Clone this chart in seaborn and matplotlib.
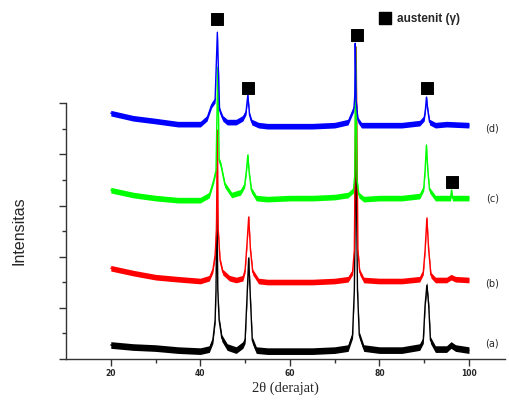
import numpy as np
import pandas as pd
import matplotlib
matplotlib.use("Agg")
import matplotlib.pyplot as plt
import seaborn as sns

# ---- data (2theta in degrees, intensity in arbitrary units) ----
x_a = [20, 25, 30, 35, 40, 42, 42.8, 43.3, 43.5, 43.7, 43.9, 44.2, 44.8, 46, 48, 49.5,
       50.0, 50.4, 50.8, 51.2, 51.6, 52.5, 55, 60, 65, 70, 73,
       74.0, 74.4, 74.75, 75.1, 75.5, 76.5, 80, 85, 89,
       89.8, 90.2, 90.6, 91.0, 91.4, 92.5, 95, 96, 97, 100]
y_a = [55, 47, 43, 35, 31, 39, 74, 152, 270, 621, 270, 152, 82, 47, 35, 55,
       74, 230, 395, 230, 74, 35, 31, 31, 31, 35, 43,
       94, 270, 844, 270, 94, 43, 35, 35, 47,
       74, 211, 289, 211, 74, 39, 39, 55, 43, 35]

x_b = [20, 25, 30, 35, 40, 42, 42.8, 43.3, 43.6, 43.8, 44.0, 44.4, 45, 46.5, 48, 49.5,
       50.0, 50.4, 50.8, 51.2, 51.7, 53, 55, 60, 65, 70, 73,
       74.0, 74.4, 74.8, 75.2, 75.6, 76.5, 80, 85, 89,
       89.8, 90.2, 90.6, 91.0, 91.5, 92.5, 95, 96, 97, 100]
y_b = [355, 336, 320, 312, 305, 316, 348, 406, 504, 894, 504, 387, 340, 316, 309, 316,
       348, 445, 555, 426, 340, 305, 301, 301, 301, 305, 312,
       340, 426, 1219, 426, 340, 309, 305, 305, 312,
       340, 426, 551, 426, 328, 309, 309, 320, 312, 309]

x_c = [20, 25, 30, 35, 40, 42, 43, 43.5, 43.9, 44.2, 44.6, 45.5, 47, 49,
       49.9, 50.3, 50.6, 50.9, 51.4, 52.5, 55, 60, 65, 70, 73,
       74.2, 74.5, 74.7, 75.0, 75.4, 76.5, 80, 85, 89,
       89.9, 90.2, 90.5, 90.8, 91.2, 92.5, 95, 95.9, 96.1, 96.3, 100]
y_c = [660, 641, 629, 621, 621, 641, 699, 738, 1141, 777, 758, 680, 641, 652,
       680, 738, 797, 730, 660, 629, 625, 629, 629, 633, 641,
       660, 719, 1219, 699, 641, 625, 629, 629, 637,
       668, 738, 836, 738, 660, 629, 629, 629, 660, 629, 629]

x_d = [20, 25, 30, 35, 40, 41.5, 42.5, 43.3, 43.8, 44.3, 45, 46, 48, 49.5,
       50.2, 50.6, 51.0, 51.5, 53, 55, 60, 65, 70, 73,
       74.3, 74.5, 74.6, 74.8, 75.2, 76, 80, 85, 89,
       90.0, 90.3, 90.5, 90.8, 91.2, 92.5, 95, 100]
y_d = [961, 941, 930, 918, 918, 941, 992, 1012, 1277, 973, 941, 926, 926, 941,
       965, 1031, 953, 926, 914, 910, 910, 910, 914, 926,
       980, 1031, 1234, 1012, 934, 914, 914, 914, 922,
       941, 980, 1023, 973, 926, 914, 918, 914]

series_names = ["(a)", "(b)", "(c)", "(d)"]
series_x = [x_a, x_b, x_c, x_d]
series_y = [y_a, y_b, y_c, y_d]
series_colors = ["#000000", "#ff0000", "#00ff00", "#0000ff"]
noise_halfwidth = [13, 11, 11, 11]   # visual thickness of the noisy baseline
label_y = [62, 297, 629, 902]

# austenite peak markers
marker_x = [43.7, 50.6, 75.0, 90.6, 96.2]
marker_y = [1328, 1058, 1266, 1058, 691]

x_ticks = [20, 40, 60, 80, 100]

# ---- plotting ----
sns.set_style("ticks")
fig = plt.figure(figsize=(5.09, 4.03), dpi=100)
ax = fig.add_axes([0.1297, 0.109, 0.862, 0.635])

for name, xs, ys, col, nw in zip(series_names, series_x, series_y, series_colors, noise_halfwidth):
    df = pd.DataFrame({"x": xs, "y": ys})
    ax.fill_between(df["x"], df["y"] - nw, df["y"] + nw, color=col, lw=0, clip_on=False)
    sns.lineplot(data=df, x="x", y="y", ax=ax, color=col, lw=1.0, sort=False,
                 estimator=None, clip_on=False)

mdf = pd.DataFrame({"x": marker_x, "y": marker_y})
sns.scatterplot(data=mdf, x="x", y="y", ax=ax, marker="s", s=72, color="black",
                edgecolor="black", clip_on=False, zorder=5)

# legend
ax.scatter([81.2], [1332], marker="s", s=72, color="black", clip_on=False, zorder=5)
ax.text(84.0, 1328, "austenit (γ)", fontsize=8.5, fontweight="bold", va="center",
        ha="left", family="Liberation Sans")

for name, ly in zip(series_names, label_y):
    ax.text(105.2, ly, name, fontsize=7, ha="center", va="center", family="DejaVu Sans")

ax.set_xlim(10, 108)
ax.set_ylim(0, 1000)
ax.set_xticks(x_ticks)
ax.set_xticks([30, 50, 70, 90], minor=True)
ax.set_xticklabels([str(t) for t in x_ticks], fontsize=5.5, fontweight="bold")
ax.set_yticks(np.arange(0, 1001, 200))
ax.set_yticks(np.arange(100, 1000, 200), minor=True)
ax.set_yticklabels([])
ax.tick_params(axis="both", which="major", length=5, width=1, color="#333333", direction="out")
ax.tick_params(axis="both", which="minor", length=3, width=1, color="#333333", direction="out")
ax.tick_params(axis="x", pad=2)
ax.set_xlabel("2θ (derajat)", fontsize=10.5, family="Liberation Serif", labelpad=3)
ax.set_ylabel("Intensitas", fontsize=11.5, family="Liberation Sans", labelpad=20)
sns.despine(ax=ax, top=True, right=True)
for sp in ["left", "bottom"]:
    ax.spines[sp].set_color("#333333")
    ax.spines[sp].set_linewidth(1.0)

fig.savefig("out.png", dpi=100)
